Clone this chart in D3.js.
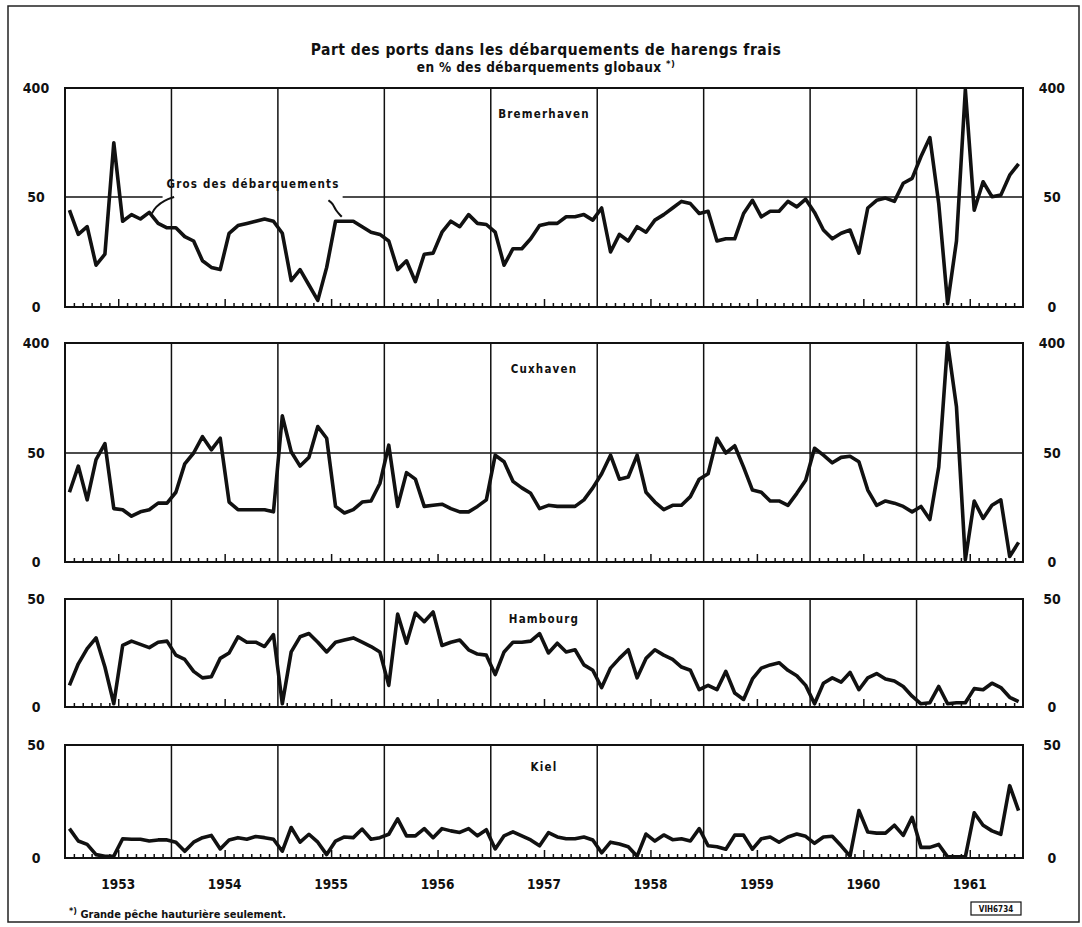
<!DOCTYPE html>
<html>
<head>
<meta charset="utf-8">
<script src="https://cdn.jsdelivr.net/npm/d3@7"></script>
<style>
body { margin: 0; background: #fff; }
svg { display: block; }
text { font-family: "DejaVu Sans Condensed", "DejaVu Sans", sans-serif; font-weight: bold; fill: #111; }
</style>
</head>
<body>
<svg id="chart"></svg>
<script>
// months Jan 1953 .. Dec 1961, one value per month
var years = ["1953", "1954", "1955", "1956", "1957", "1958", "1959", "1960", "1961"];
var ports = ["Bremerhaven", "Cuxhaven", "Hambourg", "Kiel"];

var bremerhaven = [44, 33, 36.5, 19, 24, 224, 39, 42, 40, 43, 38, 36,
    36, 32, 30, 21, 18, 17, 33.5, 37, 38, 39, 40, 39,
    33.5, 12, 17, 10, 3, 18, 39, 39, 39, 36.5, 34, 33,
    30, 17, 21, 11.5, 24, 24.5, 34, 39, 36.5, 42, 38, 37.5,
    34, 19, 26.5, 26.5, 31, 37, 38, 38, 41, 41, 42, 39.5,
    45, 25, 33, 30, 36.5, 34, 39.5, 42, 45, 48, 47, 42.5,
    43.5, 30, 31, 31, 42.5, 48.5, 41, 43.5, 43.5, 48, 45.5, 49,
    43, 35, 31, 33.5, 35, 24.5, 45, 48.5, 49.5, 48, 94, 110,
    180, 241, 47, 1.5, 30, 395, 44, 99, 51, 56, 120, 156];

var cuxhaven = [32, 44, 28.5, 47, 80, 24.5, 24, 21, 23, 24, 27, 27,
    32, 45, 50, 102, 60, 97, 27.5, 24, 24, 24, 24, 23,
    168, 54, 44, 48, 134, 97, 25.5, 22.5, 24, 27.5, 28, 36,
    75, 25.5, 41, 38, 25.5, 26, 26.5, 24.5, 23, 23, 25.5, 28.5,
    49, 46, 37, 34, 31.5, 24.5, 26, 25.5, 25.5, 25.5, 28.5, 34,
    40.5, 49, 38, 39, 49, 32, 27.5, 24, 26, 26, 30, 38,
    40.5, 97, 50, 73, 43.5, 33, 32, 28, 28, 26, 31.5, 37.5,
    65, 49, 45.5, 48, 48.5, 46, 33, 26, 28, 27, 25.5, 23,
    25.5, 19.5, 43.5, 400, 197, 1, 28, 20, 26, 28.5, 2.5, 9];

var hambourg = [10, 20, 27, 32, 18.5, 1.5, 28.5, 30.5, 29, 27.5, 30, 30.5,
    24, 22, 16.5, 13.5, 14, 22.5, 25, 32.5, 30, 30, 28, 33.5,
    1.5, 25.5, 32.5, 34, 30, 25.5, 30, 31, 32, 30, 28, 25.5,
    10, 43, 29.5, 43.5, 39.5, 44, 28.5, 30, 31, 26.5, 24.5, 24,
    15, 25.5, 30, 30, 30.5, 34, 25, 29.5, 25.5, 26.5, 19.5, 17,
    9, 18, 22.5, 26.5, 13.5, 22.5, 26.5, 24, 22, 18.5, 17, 8,
    10, 8, 16.5, 6.5, 3.5, 13, 18, 19.5, 20.5, 17, 14.5, 10,
    1.5, 11, 13.5, 11.5, 16, 8, 13.5, 15.5, 13, 12, 9.5, 5,
    1.5, 2, 9.5, 1.5, 2, 2, 8.5, 8, 11, 9, 4.5, 2.5];

var kiel = [13, 7.5, 6, 1.5, 0.8, 0.8, 8.5, 8.3, 8.3, 7.5, 8, 8,
    7, 3, 7, 9, 10, 4, 8, 9, 8.3, 9.5, 9, 8.3,
    3, 13.5, 7, 10.5, 7, 1.5, 7.5, 9.3, 9, 12.8, 8.3, 9,
    10.5, 17.3, 9.8, 9.8, 13, 9, 13, 12, 11.3, 13, 9.8, 12.5,
    4, 9.8, 11.6, 9.8, 8, 5.4, 11.2, 9.3, 8.5, 8.5, 9.3, 8,
    2.3, 7, 6.2, 5, 0.8, 10.6, 7.5, 10.2, 8.1, 8.5, 7.5, 13,
    5.4, 5, 3.9, 10.1, 10.1, 3.9, 8.5, 9.3, 7, 9.3, 10.6, 9.6,
    6.5, 9.3, 9.6, 5.4, 0.8, 21, 11.5, 11, 11, 14.5, 10, 18,
    4.7, 4.7, 6, 0.5, 0.5, 0.5, 20, 14.5, 12, 10.5, 32, 21];

var seriesValues = [bremerhaven, cuxhaven, hambourg, kiel];
var brokenTicks = [0, 50, 400];   // upper half of the first two panels is compressed
var plainTicks = [0, 50];

var width = 1082, height = 927;
var left = 65, right = 1023;
// panel layout (top, 50-line, bottom)
var layout = [
    {top: 88, mid: 197, bottom: 307, labelDy: 30},
    {top: 343, mid: 453, bottom: 562, labelDy: 30},
    {top: 599, mid: null, bottom: 707, labelDy: 24},
    {top: 745, mid: null, bottom: 858, labelDy: 26}
];

var svg = d3.select("#chart").attr("width", width).attr("height", height);

svg.append("rect")
    .attr("x", 8).attr("y", 6)
    .attr("width", 1071).attr("height", 916)
    .attr("fill", "none").attr("stroke", "#222").attr("stroke-width", 1.5);

svg.append("text")
    .attr("x", 546).attr("y", 55)
    .attr("text-anchor", "middle")
    .attr("font-size", 15.5)
    .style("letter-spacing", "0.5px")
    .text("Part des ports dans les débarquements de harengs frais");

var sub = svg.append("text")
    .attr("x", 546).attr("y", 72)
    .attr("text-anchor", "middle")
    .attr("font-size", 13.5)
    .style("letter-spacing", "0.4px")
    .text("en % des débarquements globaux ");
sub.append("tspan").attr("dy", -5).attr("font-size", 9.5).text("*)");

var x = d3.scaleLinear().domain([0, 108]).range([left, right]);

function drawPanel(k) {
    var p = layout[k];
    var vals = seriesValues[k];
    var y;
    if (p.mid != null)
        y = d3.scaleLinear().domain([0, 50, 400]).range([p.bottom, p.mid, p.top]);
    else
        y = d3.scaleLinear().domain([0, 50]).range([p.bottom, p.top]);
    var ticks = p.mid != null ? brokenTicks : plainTicks;
    var g = svg.append("g");

    // month ticks, long one at mid-year
    var monthTicks = d3.range(1, 108).filter(function(m) { return m % 12 != 0 && m % 12 != 6; });
    g.append("g")
        .attr("transform", "translate(0," + p.bottom + ")")
        .call(d3.axisTop(x).tickValues(monthTicks).tickSize(4).tickFormat(""))
        .call(function(a) { a.select(".domain").remove(); });
    g.append("g")
        .attr("transform", "translate(0," + p.bottom + ")")
        .call(d3.axisTop(x).tickValues(d3.range(6, 108, 12)).tickSize(8).tickFormat(""))
        .call(function(a) { a.select(".domain").remove(); });
    g.selectAll(".tick line").attr("stroke", "#111").attr("stroke-width", 1.5);

    // year dividers
    g.selectAll("line.yr")
        .data(d3.range(12, 108, 12))
        .enter().append("line")
        .attr("class", "yr")
        .attr("x1", function(d) { return x(d); })
        .attr("x2", function(d) { return x(d); })
        .attr("y1", p.top).attr("y2", p.bottom)
        .attr("stroke", "#111").attr("stroke-width", 1.5);

    // 50 line (first panel is broken for the annotation)
    if (p.mid != null) {
        var segs = k == 0 ? [[0, 11], [31.3, 108]] : [[0, 108]];
        g.selectAll("line.fifty")
            .data(segs)
            .enter().append("line")
            .attr("class", "fifty")
            .attr("x1", function(d) { return x(d[0]); })
            .attr("x2", function(d) { return x(d[1]); })
            .attr("y1", y(50)).attr("y2", y(50))
            .attr("stroke", "#111").attr("stroke-width", 1.6);
    }

    g.append("rect")
        .attr("x", left).attr("y", p.top)
        .attr("width", right - left).attr("height", p.bottom - p.top)
        .attr("fill", "none").attr("stroke", "#111").attr("stroke-width", 2);

    // y labels both sides
    var la = g.append("g").attr("transform", "translate(" + left + ",0)")
        .call(d3.axisLeft(y).tickValues(ticks).tickSize(0).tickFormat(d3.format("d")));
    la.select(".domain").remove();
    la.selectAll("text").attr("x", -29).attr("text-anchor", "middle")
        .attr("font-size", 14).attr("font-family", null).style("font-weight", "bold");
    var ra = g.append("g").attr("transform", "translate(" + right + ",0)")
        .call(d3.axisRight(y).tickValues(ticks).tickSize(0).tickFormat(d3.format("d")));
    ra.select(".domain").remove();
    ra.selectAll("text").attr("x", 29).attr("text-anchor", "middle")
        .attr("font-size", 14).attr("font-family", null).style("font-weight", "bold");

    g.append("text")
        .attr("x", x(54)).attr("y", p.top + p.labelDy)
        .attr("text-anchor", "middle")
        .attr("font-size", 11.5)
        .style("letter-spacing", "1.2px")
        .text(ports[k]);

    var line = d3.line()
        .x(function(d, i) { return x(i + 0.5); })
        .y(function(d) { return y(d); });
    g.append("path")
        .datum(vals)
        .attr("d", line)
        .attr("fill", "none")
        .attr("stroke", "#111")
        .attr("stroke-width", 3.6)
        .attr("stroke-linejoin", "round");

    return y;
}

var yBrem = drawPanel(0);
drawPanel(1);
drawPanel(2);
drawPanel(3);

// "Gros des débarquements" with its two leaders, in month / value units
svg.append("text")
    .attr("x", x(21.2)).attr("y", yBrem(50) - 9)
    .attr("text-anchor", "middle")
    .attr("font-size", 11.5)
    .style("letter-spacing", "1.2px")
    .text("Gros des débarquements");
var leaders = [
    [[12.3, 50], [11.2, 48.5], [10.2, 45.5], [9.8, 42.5]],
    [[29.7, 48.5], [30.2, 47], [30.5, 44], [31.2, 41]]
];
svg.selectAll("path.lead")
    .data(leaders)
    .enter().append("path")
    .attr("class", "lead")
    .attr("d", d3.line().curve(d3.curveBasis)
        .x(function(d) { return x(d[0]); })
        .y(function(d) { return yBrem(d[1]); }))
    .attr("fill", "none").attr("stroke", "#111").attr("stroke-width", 2);

// year labels under the last panel
svg.selectAll("text.year")
    .data(years)
    .enter().append("text")
    .attr("class", "year")
    .attr("x", function(d, i) { return x(i * 12 + 6); })
    .attr("y", 889)
    .attr("text-anchor", "middle")
    .attr("font-size", 13.5)
    .text(function(d) { return d; });

var foot = svg.append("text")
    .attr("x", 69).attr("y", 918)
    .attr("font-size", 11);
foot.append("tspan").attr("font-size", 9).attr("dy", -4).text("*)");
foot.append("tspan").attr("dy", 4).text(" Grande pêche hauturière seulement.");

// document reference stamp
svg.append("rect")
    .attr("x", 971).attr("y", 902).attr("width", 50).attr("height", 13)
    .attr("fill", "none").attr("stroke", "#111").attr("stroke-width", 1.2);
svg.append("text")
    .attr("x", 996).attr("y", 912)
    .attr("text-anchor", "middle")
    .attr("font-size", 8)
    .text("VIH6734");
</script>
</body>
</html>
